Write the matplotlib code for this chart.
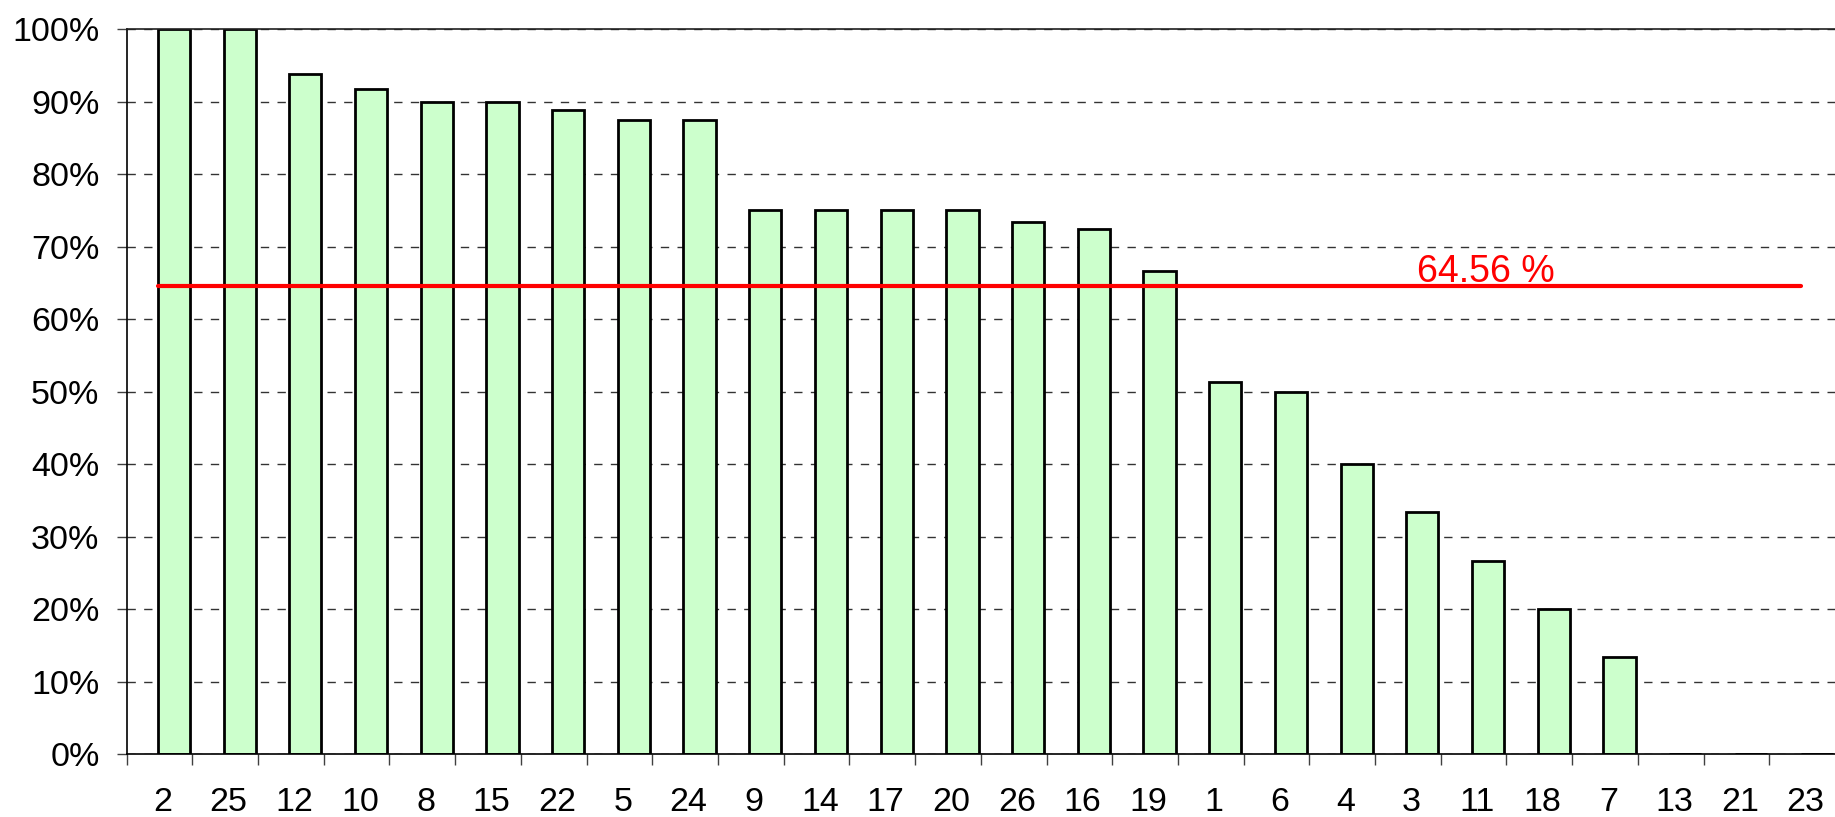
import numpy as np
import matplotlib.pyplot as plt

plt.rcParams['font.family'] = ['Liberation Sans', 'DejaVu Sans']

categories = ['2', '25', '12', '10', '8', '15', '22', '5', '24', '9', '14', '17', '20',
              '26', '16', '19', '1', '6', '4', '3', '11', '18', '7', '13', '21', '23']
values = [100, 100, 93.75, 91.67, 90, 90, 88.89, 87.5, 87.5, 75, 75, 75, 75,
          73.33, 72.41, 66.67, 51.28, 50, 40, 33.33, 26.67, 20, 13.33, 0, 0, 0]
average = 64.56
avg_label = '64.56 %'

n = len(categories)
x = np.arange(n)
bar_w = 0.49
bar_x = x + 0.72

fig = plt.figure(figsize=(18.35, 8.17), dpi=100)
ax = fig.add_axes([0.069, 0.0771, 0.931, 0.8874])

ax.bar(bar_x, values, width=bar_w, color='#CCFFCC', edgecolor='black',
       linewidth=2.0, zorder=2)

# average line, from first to last category
ax.plot([bar_x[0] - bar_w / 2, bar_x[-1] - bar_w / 2], [average, average],
        color='#FF0000', linewidth=3.0, solid_capstyle='round', zorder=3)
ax.annotate(avg_label, xy=(19.64, average), xytext=(0, 2.5), textcoords='offset points',
            ha='left', va='baseline', color='#FF0000', fontsize=27, zorder=4)

ax.set_xlim(0, n)
ax.set_ylim(0, 100)

ax.set_yticks(np.arange(0, 101, 10))
ax.set_yticklabels([f'{v}%' for v in range(0, 101, 10)])
ax.yaxis.grid(True, linestyle=(0, (6, 6)), color='#333333', linewidth=1.0, zorder=0)
ax.set_axisbelow(True)

ax.set_xticks(x)
ax.set_xticklabels([])
ax.set_xticks(x + 0.55, minor=True)
ax.set_xticklabels(categories, minor=True)

ax.tick_params(axis='y', which='major', direction='out', length=7.5, width=1.0,
               pad=12, labelsize=24.5, color='#404040')
ax.tick_params(axis='x', which='major', direction='out', length=8, width=1.0,
               color='#404040')
ax.tick_params(axis='x', which='minor', length=0, pad=24, labelsize=24.5)

ax.spines['right'].set_visible(False)
ax.spines['top'].set_color('#202020')
ax.spines['top'].set_linewidth(1.2)
for s in ['left', 'bottom']:
    ax.spines[s].set_color('black')
    ax.spines[s].set_linewidth(1.2)

fig.savefig('out.png', dpi=100)
